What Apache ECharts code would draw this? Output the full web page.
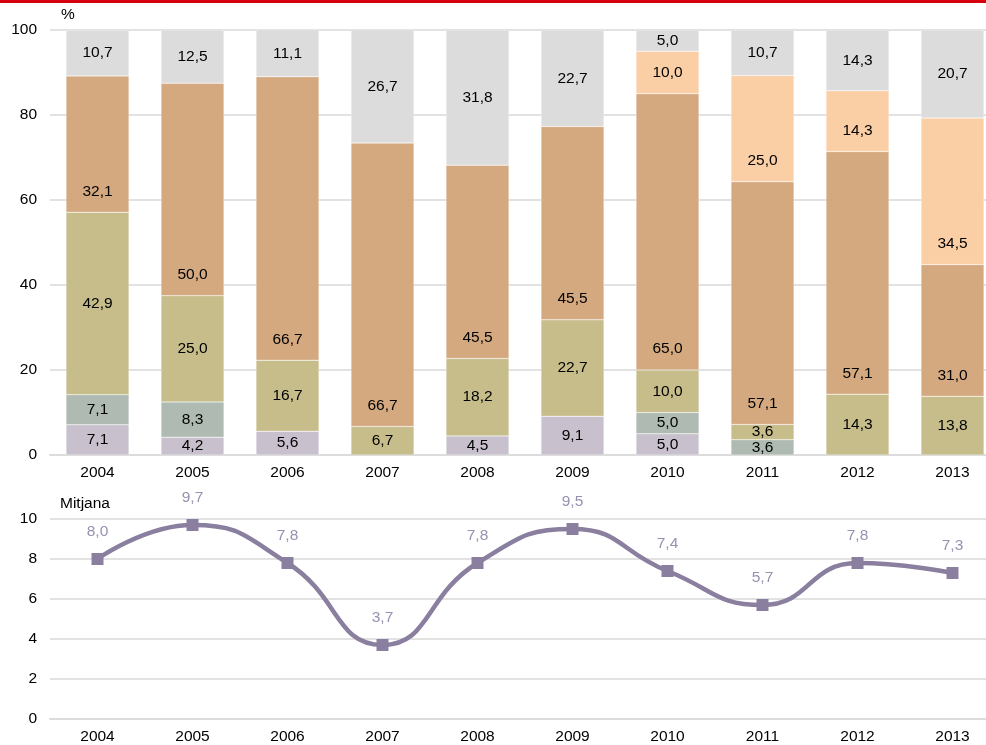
<!DOCTYPE html>
<html>
<head>
<meta charset="utf-8">
<script src="https://cdn.jsdelivr.net/npm/echarts@6/dist/echarts.min.js"></script>
<style>
  html, body { margin: 0; padding: 0; background: #fff; overflow: hidden; }
  #chart { width: 1001px; height: 745px; }
</style>
</head>
<body>
<div id="chart"></div>
<script>
// categories
var years = ['2004', '2005', '2006', '2007', '2008', '2009', '2010', '2011', '2012', '2013'];

// stacked shares (%), bottom to top
var serieA = [7.1, 4.2, 5.6, null, 4.5, 9.1, 5.0, null, null, null];
var serieB = [7.1, 8.3, null, null, null, null, 5.0, 3.6, null, null];
var serieC = [42.9, 25.0, 16.7, 6.7, 18.2, 22.7, 10.0, 3.6, 14.3, 13.8];
var serieD = [32.1, 50.0, 66.7, 66.7, 45.5, 45.5, 65.0, 57.1, 57.1, 31.0];
var serieE = [null, null, null, null, null, null, 10.0, 25.0, 14.3, 34.5];
var serieF = [10.7, 12.5, 11.1, 26.7, 31.8, 22.7, 5.0, 10.7, 14.3, 20.7];

// mean line
var mitjana = [8.0, 9.7, 7.8, 3.7, 7.8, 9.5, 7.4, 5.7, 7.8, 7.3];

var chartDom = document.getElementById('chart');
var myChart = echarts.init(chartDom);

var fontFam = '"Liberation Sans", Arial, sans-serif';
var fs = 15.5;
var coma = function (p) {
  return p.value == null ? '' : Number(p.value).toFixed(1).replace('.', ',');
};

// one stacked bar series
function barra(name, data, color, pos, dist) {
  return {
    name: name,
    type: 'bar',
    stack: 'total',
    xAxisIndex: 0,
    yAxisIndex: 0,
    barWidth: 63,
    data: data,
    itemStyle: { color: color, borderColor: 'rgba(255,255,255,0.5)', borderWidth: 0.5 },
    label: {
      show: true,
      position: pos || 'inside',
      distance: dist || 5,
      formatter: coma,
      color: '#000',
      fontSize: fs,
      fontFamily: fontFam
    }
  };
}

var axisX = function (idx) {
  return {
    type: 'category',
    gridIndex: idx,
    data: years,
    axisLine: { lineStyle: { color: '#dcdcdc', width: 2 } },
    axisTick: { show: false },
    axisLabel: { color: '#000', fontSize: fs, fontFamily: fontFam, margin: 10 }
  };
};

var axisY = function (idx, max, step) {
  return {
    type: 'value',
    gridIndex: idx,
    min: 0,
    max: max,
    interval: step,
    axisLine: { show: false },
    axisTick: { show: false },
    splitLine: { lineStyle: { color: '#d9d9d9', width: 1.5 } },
    axisLabel: { color: '#000', fontSize: fs, fontFamily: fontFam, margin: 13 }
  };
};

var option = {
  animation: false,
  grid: [
    { left: 50, top: 30, right: 1, height: 425 },
    { left: 50, top: 519, right: 1, height: 200 }
  ],
  graphic: [
    { type: 'rect', left: 0, top: 0, shape: { width: 1001, height: 3 }, style: { fill: '#d7000f' } },
    { type: 'text', left: 61, top: 7, style: { text: '%', fontSize: fs, fontFamily: fontFam, fill: '#000' } },
    { type: 'text', left: 60, top: 496, style: { text: 'Mitjana', fontSize: fs, fontFamily: fontFam, fill: '#000' } }
  ],
  xAxis: [axisX(0), axisX(1)],
  yAxis: [axisY(0, 100, 20), axisY(1, 10, 2)],
  series: [
    barra('A', serieA, '#c9c0cd'),
    barra('B', serieB, '#aebab2'),
    barra('C', serieC, '#c6bd8a'),
    barra('D', serieD, '#d4a980', 'insideBottom', 13),
    barra('E', serieE, '#fbcfa6', 'insideBottom', 13),
    barra('F', serieF, '#dcdcdc'),
    {
      name: 'Mitjana',
      type: 'line',
      xAxisIndex: 1,
      yAxisIndex: 1,
      data: mitjana,
      smooth: 0.5,
      symbol: 'rect',
      symbolSize: 12,
      lineStyle: { color: '#8a7f9f', width: 4.5 },
      itemStyle: { color: '#8a7f9f' },
      label: {
        show: true,
        position: 'top',
        distance: 13,
        formatter: coma,
        color: '#9890b0',
        fontSize: fs,
        fontFamily: fontFam
      }
    }
  ]
};

option && myChart.setOption(option);
</script>
</body>
</html>
